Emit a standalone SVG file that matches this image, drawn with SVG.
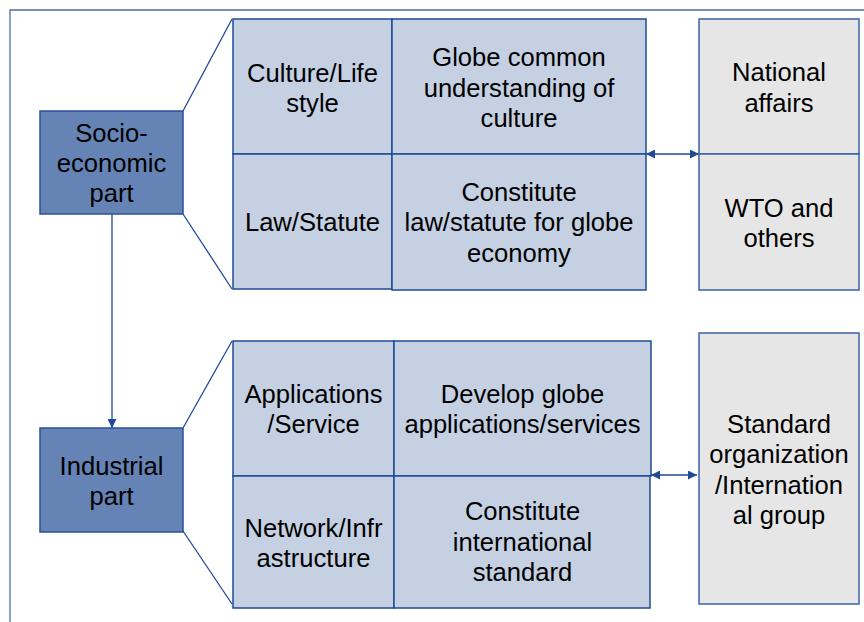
<svg xmlns="http://www.w3.org/2000/svg" width="864" height="622" viewBox="0 0 864 622">
<style>
text{font-family:"Liberation Sans",Arial,sans-serif;font-size:25.6px;fill:#000;text-anchor:middle}
.dark{fill:#6583B4;stroke:#2A509A;stroke-width:1.5}
.cell{fill:#C5D0E2;stroke:#1F4A96;stroke-width:1.5}
.grey{fill:#E6E6E6;stroke:#3A62A6;stroke-width:1.5}
.ln{stroke:#1F4A96;stroke-width:1.3;fill:none}
</style>
<defs>
<marker id="ah" viewBox="0 0 10 10" refX="10" refY="5" markerWidth="9" markerHeight="9" markerUnits="userSpaceOnUse" orient="auto-start-reverse">
<path d="M0,0 L10,5 L0,10 z" fill="#1F4A96"/>
</marker>
</defs>
<rect width="864" height="622" fill="#fff"/>
<path d="M10,622 V10 H870" fill="none" stroke="#4A6FAE" stroke-width="1.3"/>

<g id="connectors">
<line class="ln" x1="183" y1="111" x2="232" y2="19"/>
<line class="ln" x1="183" y1="214" x2="232" y2="289"/>
<line class="ln" x1="183" y1="428" x2="232" y2="341"/>
<line class="ln" x1="181" y1="528" x2="232" y2="604"/>
<line class="ln" x1="112" y1="214" x2="112" y2="428" marker-end="url(#ah)"/>
<line class="ln" x1="646" y1="154" x2="699" y2="154" marker-start="url(#ah)" marker-end="url(#ah)"/>
<line class="ln" x1="651" y1="475" x2="697" y2="475" marker-start="url(#ah)" marker-end="url(#ah)"/>
</g>

<g id="socio">
<rect class="dark" x="40" y="111" width="143" height="103"/>
<text x="111.5" y="141.7">Socio-</text>
<text x="111.5" y="171.7">economic</text>
<text x="111.5" y="201.7">part</text>
</g>

<g id="industrial">
<rect class="dark" x="40" y="428" width="143" height="104"/>
<text x="111.5" y="474.5">Industrial</text>
<text x="111.5" y="505">part</text>
</g>

<g id="culture">
<rect class="cell" x="233" y="19" width="159" height="135"/>
<text x="312.5" y="81.5">Culture/Life</text>
<text x="312.5" y="112">style</text>
</g>
<g id="law">
<rect class="cell" x="233" y="154" width="159" height="135"/>
<text x="312.5" y="231">Law/Statute</text>
</g>
<g id="globe-culture">
<rect class="cell" x="392" y="19" width="254" height="135"/>
<text x="519" y="66">Globe common</text>
<text x="519" y="96.5">understanding of</text>
<text x="519" y="127">culture</text>
</g>
<g id="globe-law">
<rect class="cell" x="392" y="154" width="254" height="136"/>
<text x="519" y="200.5">Constitute</text>
<text x="519" y="231">law/statute for globe</text>
<text x="519" y="261.5">economy</text>
</g>
<g id="national">
<rect class="grey" x="699" y="19" width="160" height="135"/>
<text x="779" y="81">National</text>
<text x="779" y="111.5">affairs</text>
</g>
<g id="wto">
<rect class="grey" x="699" y="154" width="160" height="136"/>
<text x="779" y="216.5">WTO and</text>
<text x="779" y="247">others</text>
</g>

<g id="apps">
<rect class="cell" x="233" y="341" width="161" height="135"/>
<text x="313.5" y="402.5">Applications</text>
<text x="313.5" y="433">/Service</text>
</g>
<g id="network">
<rect class="cell" x="233" y="476" width="161" height="132"/>
<text x="313.5" y="536.5">Network/Infr</text>
<text x="313.5" y="567">astructure</text>
</g>
<g id="develop">
<rect class="cell" x="394" y="341" width="257" height="135"/>
<text x="522.5" y="402.5">Develop globe</text>
<text x="522.5" y="433">applications/services</text>
</g>
<g id="intl-std">
<rect class="cell" x="394" y="476" width="256" height="132"/>
<text x="522.5" y="520">Constitute</text>
<text x="522.5" y="550.5">international</text>
<text x="522.5" y="581">standard</text>
</g>
<g id="std-org">
<rect class="grey" x="699" y="333" width="160" height="271"/>
<text x="779" y="432.5">Standard</text>
<text x="779" y="463">organization</text>
<text x="779" y="493.5">/Internation</text>
<text x="779" y="524">al group</text>
</g>
</svg>
